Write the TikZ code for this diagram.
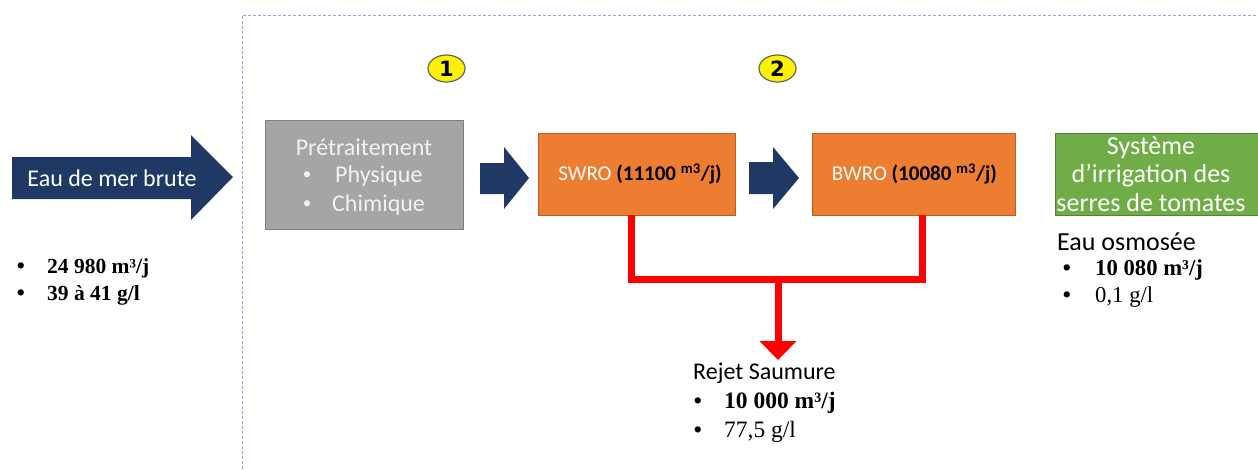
\documentclass[tikz,border=0pt]{standalone}
\usepackage{fontspec}
\setmainfont{Carlito}
\newfontfamily\tnr{Liberation Serif}
\newfontfamily\djv{DejaVu Sans}
\usetikzlibrary{arrows.meta,calc,shapes.geometric}
\definecolor{navy}{HTML}{203864}
\definecolor{gbox}{HTML}{A5A5A5}
\definecolor{gline}{HTML}{7F7F7F}
\definecolor{obox}{HTML}{ED7D31}
\definecolor{oline}{HTML}{B75F22}
\definecolor{grbox}{HTML}{70AD47}
\definecolor{grline}{HTML}{548235}
\definecolor{dashc}{HTML}{8FAADC}
\definecolor{ltxt}{HTML}{F2F2F2}
\tikzset{
  blockarrow/.style={fill=navy},
  procbox/.style={draw=gline, fill=gbox, line width=1pt},
  robox/.style={draw=oline, fill=obox, line width=1pt},
  irrbox/.style={draw=grline, fill=grbox, line width=1pt},
  stepnum/.style={ellipse, draw=black!60, fill=yellow, line width=1.2pt, minimum width=37pt, minimum height=27pt, inner sep=0pt, font=\djv\bfseries\fontsize{21}{21}\selectfont},
  sansl/.style={font=\fontsize{24}{24}\selectfont, inner sep=0pt, anchor=west},
  sbul/.style={font=\fontsize{17}{17}\selectfont, inner sep=0pt},
  seril/.style={font=\tnr\fontsize{21.5}{21.5}\selectfont, inner sep=0pt, anchor=west},
  tbul/.style={font=\tnr\bfseries\fontsize{23}{23}\selectfont, inner sep=0pt},
  brine/.style={draw=red, line width=7pt},
}
\begin{document}
\begin{tikzpicture}[x=1pt,y=-1pt]
\useasboundingbox (0,0) rectangle (1258,469);
% dashed frame
\draw[dashc, line width=0.8pt, dash pattern=on 3pt off 2pt] (242,469) -- (242,15) -- (1258,15);
% big input arrow
\fill[blockarrow] (12,157) -- (191,157) -- (191,135) -- (233,177) -- (191,220) -- (191,199) -- (12,199) -- cycle;
\node[font=\fontsize{24}{24}\selectfont, text=white, inner sep=0pt] (inlet) at (112,178) {Eau de mer brute};
% input values
\node[tbul] (b1) at (21,268) {\textbullet};
\node[seril, font=\tnr\bfseries\fontsize{21.5}{21.5}\selectfont] (v1) at (47,268) {24 980 m³/j};
\node[tbul] (b2) at (21,295) {\textbullet};
\node[seril, font=\tnr\bfseries\fontsize{21.5}{21.5}\selectfont] (v2) at (47,295) {39 à 41 g/l};
% step numbers
\node[stepnum] (n1) at (446.5,68.5) {1};
\node[stepnum] (n2) at (777.5,68.5) {2};
% pretreatment box
\draw[procbox] (265,120) rectangle (463,229);
\node[font=\fontsize{24}{24}\selectfont, text=ltxt, inner sep=0pt] (pre) at (364,147) {Prétraitement};
\node[sbul, text=ltxt] (pb1) at (307,176) {\textbullet};
\node[sansl, text=ltxt] (phys) at (335,176) {Physique};
\node[sbul, text=ltxt] (pb2) at (307,205) {\textbullet};
\node[sansl, text=ltxt] (chim) at (332,205) {Chimique};
% arrow 1
\fill[blockarrow] (480,163) -- (504,163) -- (504,147) -- (529,178) -- (504,209) -- (504,194) -- (480,194) -- cycle;
% SWRO
\draw[robox] (538,133) rectangle (735,215);
\node[font=\fontsize{21}{21}\selectfont, inner sep=0pt] (swro) at (640,174) {\textcolor{white}{SWRO }\textbf{(11100 \textsuperscript{m3}/j)}};
\coordinate (swrob) at (631,215);
% arrow 2
\fill[blockarrow] (749,162) -- (773,162) -- (773,147) -- (799,178) -- (773,209) -- (773,194) -- (749,194) -- cycle;
% BWRO
\draw[robox] (812,133) rectangle (1015,215);
\node[font=\fontsize{21}{21}\selectfont, inner sep=0pt] (bwro) at (914.5,174) {\textcolor{white}{BWRO }\textbf{(10080 \textsuperscript{m3}/j)}};
\coordinate (bwrob) at (922,215);
% irrigation
\draw[irrbox] (1055,133) rectangle (1262,215);
\node[font=\fontsize{26}{28.5}\selectfont, text=white, align=center, inner sep=0pt] (irr) at (1151,174) {Système\\d’irrigation des\\serres de tomates};
\node[sansl, font=\fontsize{26}{26}\selectfont] (osm) at (1057,242) {Eau osmosée};
\node[tbul] (ob1) at (1067,270) {\textbullet};
\node[seril, font=\tnr\bfseries\fontsize{22.7}{22.7}\selectfont] (ov1) at (1095,270) {10 080 m³/j};
\node[tbul] (ob2) at (1067,297) {\textbullet};
\node[seril, font=\tnr\fontsize{22.7}{22.7}\selectfont] (ov2) at (1095,297) {0,1 g/l};
% brine connector
\coordinate (join) at (778,279);
\coordinate (brtip) at (778,360);
\draw[brine, line cap=butt, line join=miter] (swrob) -- (631,279) -- (922,279) -- (bwrob);
\draw[brine, -{Triangle[width=36pt,length=19pt]}] (join) -- (brtip);
% brine text
\node[sansl] (rej) at (693,373) {Rejet Saumure};
\node[tbul] (rb1) at (698,403) {\textbullet};
\node[seril, font=\tnr\bfseries\fontsize{23.5}{23.5}\selectfont] (rv1) at (724,403) {10 000 m³/j};
\node[tbul] (rb2) at (698,432) {\textbullet};
\node[seril, font=\tnr\fontsize{23.5}{23.5}\selectfont] (rv2) at (724,432) {77,5 g/l};
\end{tikzpicture}
\end{document}
